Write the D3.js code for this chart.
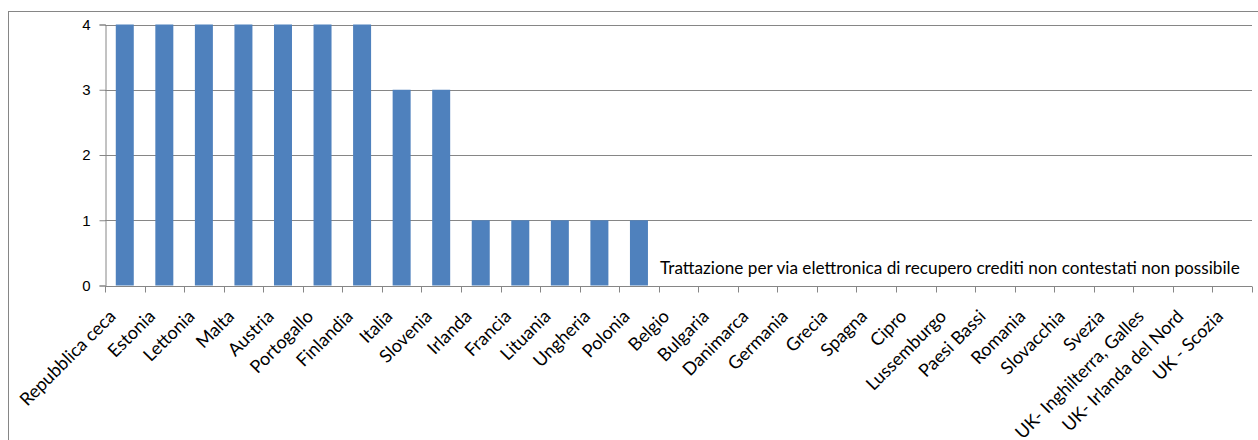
<!DOCTYPE html>
<html>
<head>
<meta charset="utf-8">
<script src="https://cdn.jsdelivr.net/npm/d3@7"></script>
<style>
  html, body { margin: 0; padding: 0; background: #fff; }
  svg { display: block; font-family: Lato, "Open Sans", sans-serif; }
</style>
</head>
<body>
<svg id="chart" width="1258" height="440"></svg>
<script>
// Paesi e numero di procedure
const categories = [
  "Repubblica ceca", "Estonia", "Lettonia", "Malta", "Austria", "Portogallo",
  "Finlandia", "Italia", "Slovenia", "Irlanda", "Francia", "Lituania",
  "Ungheria", "Polonia", "Belgio", "Bulgaria", "Danimarca", "Germania",
  "Grecia", "Spagna", "Cipro", "Lussemburgo", "Paesi Bassi", "Romania",
  "Slovacchia", "Svezia", "UK- Inghilterra, Galles", "UK- Irlanda del Nord",
  "UK - Scozia"
];
const values = [4, 4, 4, 4, 4, 4, 4, 3, 3, 1, 1, 1, 1, 1,
                0, 0, 0, 0, 0, 0, 0, 0, 0, 0, 0, 0, 0, 0, 0];
const yTicks = [0, 1, 2, 3, 4];
const note = "Trattazione per via elettronica di recupero crediti non contestati non possibile";

const svg = d3.select("#chart");
const margin = { left: 105, right: 1252, top: 24.5, bottom: 285.5 };

// cornice dell'area grafico
svg.append("rect")
  .attr("x", 8.5).attr("y", 11.5)
  .attr("width", 1300).attr("height", 500)
  .attr("fill", "none").attr("stroke", "#868686");

const x = d3.scaleBand()
  .domain(categories)
  .range([margin.left, margin.right])
  .paddingInner(0.545).paddingOuter(0.2725);

const xTicks = d3.scaleBand().domain(categories).range([margin.left, margin.right]);

const y = d3.scaleLinear().domain([0, 4]).range([margin.bottom, margin.top]);

// griglia orizzontale
svg.append("g")
  .selectAll("line")
  .data(yTicks.filter(d => d > 0))
  .join("line")
  .attr("x1", margin.left).attr("x2", margin.right)
  .attr("y1", d => Math.round(y(d)) + 0.5).attr("y2", d => Math.round(y(d)) + 0.5)
  .attr("stroke", "#868686");

// barre
svg.append("g")
  .selectAll("rect")
  .data(values)
  .join("rect")
  .attr("x", (d, i) => x(categories[i]))
  .attr("width", x.bandwidth())
  .attr("y", d => y(d))
  .attr("height", d => y(0) - y(d))
  .attr("fill", "#4F81BD");

// asse Y
const yAxis = svg.append("g")
  .attr("transform", `translate(${margin.left + 0.5},0)`)
  .call(d3.axisLeft(y).tickValues(yTicks).tickFormat(d3.format("d")).tickSize(6).tickPadding(9));
yAxis.select(".domain").attr("stroke", "#868686");
yAxis.selectAll(".tick line").attr("stroke", "#868686");
yAxis.selectAll(".tick text").attr("font-size", 15).attr("fill", "#000").attr("font-family", null);

// asse X con tacche tra le categorie
const xAxisG = svg.append("g").attr("transform", `translate(0,${Math.round(y(0)) + 0.5})`);
xAxisG.append("line")
  .attr("x1", margin.left).attr("x2", margin.right)
  .attr("stroke", "#868686");
xAxisG.selectAll("line.tick")
  .data(categories.concat([null]))
  .join("line")
  .attr("class", "tick")
  .attr("x1", (d, i) => Math.round(margin.left + i * xTicks.step()) + 0.5)
  .attr("x2", (d, i) => Math.round(margin.left + i * xTicks.step()) + 0.5)
  .attr("y1", 0).attr("y2", 6)
  .attr("stroke", "#868686");

// etichette ruotate
svg.append("g")
  .selectAll("text")
  .data(categories)
  .join("text")
  .attr("transform", d => `translate(${x(d) + x.bandwidth() / 2 - 8},${y(0) + 32}) rotate(-45)`)
  .attr("text-anchor", "end")
  .attr("font-size", 18)
  .attr("fill", "#000")
  .text(d => d);

// nota sui paesi senza procedura elettronica
svg.append("text")
  .attr("x", 660)
  .attr("y", 274)
  .attr("font-size", 17.2)
  .attr("fill", "#000")
  .text(note);
</script>
</body>
</html>
